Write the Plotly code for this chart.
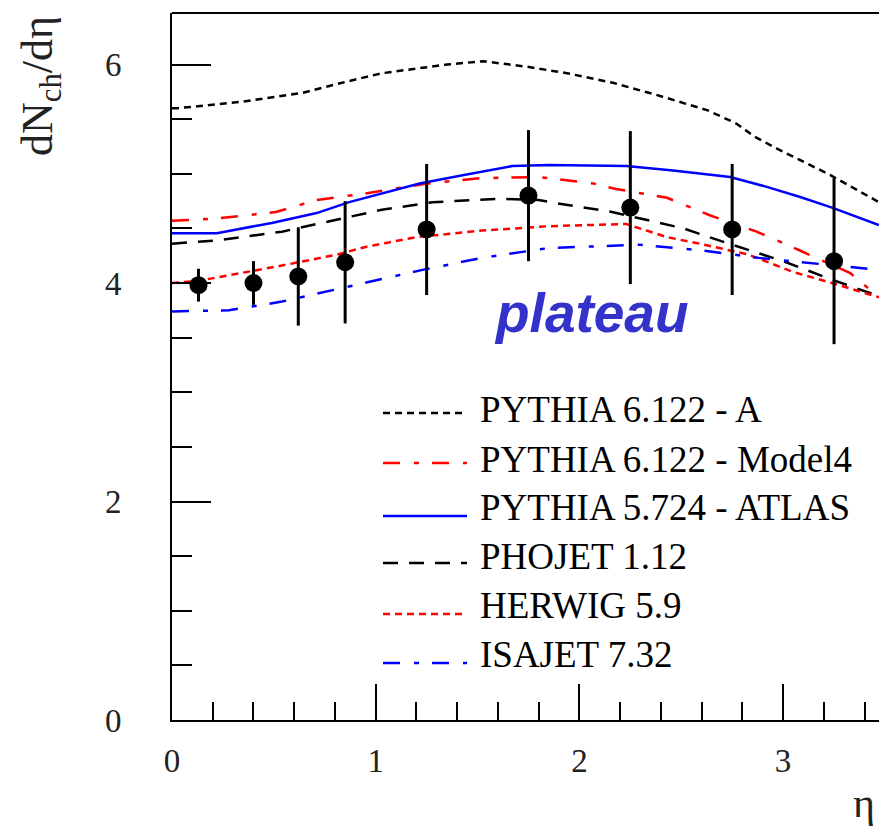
import plotly.graph_objects as go

# ---------------- data ----------------
eta_pythia_a = [0.0, 0.03, 0.35, 0.64, 0.85, 1.03, 1.35, 1.53, 1.74, 1.94, 2.17, 2.40, 2.63, 2.77, 2.86, 2.97, 3.23, 3.47]
val_pythia_a = [5.60, 5.60, 5.66, 5.74, 5.84, 5.92, 6.00, 6.03, 5.98, 5.92, 5.83, 5.71, 5.58, 5.46, 5.34, 5.23, 4.99, 4.74]

eta_model4 = [0.0, 0.22, 0.51, 0.71, 0.95, 1.25, 1.52, 1.80, 2.07, 2.18, 2.43, 2.64, 2.87, 3.08, 3.33, 3.47]
val_model4 = [4.57, 4.59, 4.65, 4.76, 4.82, 4.91, 4.96, 4.97, 4.91, 4.86, 4.78, 4.62, 4.47, 4.30, 4.09, 3.87]

eta_atlas = [0.0, 0.22, 0.49, 0.71, 0.87, 1.03, 1.215, 1.44, 1.67, 1.85, 2.23, 2.46, 2.59, 2.74, 2.92, 3.08, 3.24, 3.47]
val_atlas = [4.455, 4.455, 4.55, 4.64, 4.74, 4.82, 4.91, 4.99, 5.07, 5.08, 5.07, 5.03, 5.00, 4.97, 4.88, 4.79, 4.69, 4.53]

eta_phojet = [0.0, 0.22, 0.54, 0.81, 1.03, 1.28, 1.61, 1.80, 1.89, 2.16, 2.30, 2.51, 2.75, 3.00, 3.24, 3.41, 3.47]
val_phojet = [4.36, 4.39, 4.47, 4.58, 4.67, 4.74, 4.77, 4.76, 4.73, 4.65, 4.59, 4.50, 4.35, 4.20, 4.03, 3.92, 3.88]

eta_herwig = [0.0, 0.13, 0.54, 0.81, 0.95, 1.20, 1.52, 1.85, 2.23, 2.43, 2.59, 2.83, 3.05, 3.24, 3.47]
val_herwig = [4.00, 4.02, 4.16, 4.26, 4.33, 4.42, 4.48, 4.52, 4.54, 4.42, 4.36, 4.26, 4.10, 4.00, 3.87]

eta_isajet = [0.0, 0.28, 0.54, 0.87, 1.23, 1.52, 1.85, 2.30, 2.59, 2.88, 3.24, 3.47]
val_isajet = [3.74, 3.75, 3.83, 3.97, 4.12, 4.23, 4.32, 4.35, 4.30, 4.23, 4.16, 4.12]

eta_data = [0.13, 0.40, 0.62, 0.85, 1.25, 1.75, 2.25, 2.75, 3.25]
val_data = [3.98, 4.00, 4.06, 4.19, 4.49, 4.80, 4.69, 4.49, 4.20]
err_data = [0.15, 0.20, 0.45, 0.56, 0.60, 0.60, 0.70, 0.60, 0.76]

series_names = ["PYTHIA 6.122 - A", "PYTHIA 6.122 - Model4", "PYTHIA 5.724 - ATLAS",
                "PHOJET 1.12", "HERWIG 5.9", "ISAJET 7.32"]
series_colors = ["black", "#ff0000", "#0000ff", "black", "#ff0000", "#0000ff"]
series_dashes = ["7px,5px", "17px,14px,5px,13px", "solid", "15px,11px", "7px,5px", "17px,14px,5px,13px"]
series_x = [eta_pythia_a, eta_model4, eta_atlas, eta_phojet, eta_herwig, eta_isajet]
series_y = [val_pythia_a, val_model4, val_atlas, val_phojet, val_herwig, val_isajet]

# ---------------- figure ----------------
W, H = 879, 832
L, R, T, B = 172, 0, 13, 112
PW, PH = W - L - R, H - T - B
XMAX = PW / 203.7
YMAX = PH / 109.25

def px(x):
    return (x - L) / PW

def py(y):
    return (H - B - y) / PH

fig = go.Figure()
for name, c, d, xs, ys in zip(series_names, series_colors, series_dashes, series_x, series_y):
    fig.add_trace(go.Scatter(x=xs, y=ys, mode="lines", name=name,
                             line=dict(color=c, dash=d, width=2.5), showlegend=False))

fig.add_trace(go.Scatter(x=eta_data, y=val_data, mode="markers", name="data",
                         marker=dict(color="black", size=18),
                         error_y=dict(type="data", array=err_data, color="black", thickness=3, width=0),
                         showlegend=False))

serif = "Liberation Serif, Times New Roman, serif"

# manual legend (long line samples like the original)
leg_line_y = [413, 463, 516, 563, 614, 663]
leg_text_y = [410, 459, 507.5, 556, 605.5, 654.5]
shapes = []
annotations = []
for name, c, d, ly, ty in zip(series_names, series_colors, series_dashes, leg_line_y, leg_text_y):
    shapes.append(dict(type="line", xref="paper", yref="paper", x0=px(383), x1=px(467),
                       y0=py(ly), y1=py(ly), line=dict(color=c, dash=d, width=2.5)))
    annotations.append(dict(text=name, xref="paper", yref="paper", x=px(478), y=py(ty),
                            xanchor="left", yanchor="middle", showarrow=False,
                            font=dict(family=serif, size=37, color="black")))

# top frame line
shapes.append(dict(type="line", xref="paper", yref="paper", x0=0, x1=1, y0=1, y1=1,
                   line=dict(color="black", width=2)))

annotations.append(dict(text="plateau", xref="x", yref="y", x=2.057, y=3.725,
                        xanchor="center", yanchor="middle", showarrow=False,
                        font=dict(family="Liberation Sans, Arial, sans-serif", size=55,
                                  color="#3333cc", weight="bold", style="italic")))

annotations.append(dict(text="dN<sub>ch</sub>/dη", xref="paper", yref="paper",
                        x=px(40), y=py(86), xanchor="center", yanchor="middle",
                        textangle=-90, showarrow=False,
                        font=dict(family=serif, size=44, color="#222222")))

annotations.append(dict(text="η", xref="paper", yref="paper", x=px(877), y=py(828),
                        xanchor="right", yanchor="bottom", showarrow=False,
                        font=dict(family=serif, size=42, color="#222222")))

fig.update_layout(
    width=W, height=H,
    margin=dict(l=L, r=R, t=T, b=B, pad=0),
    paper_bgcolor="white", plot_bgcolor="white",
    shapes=shapes, annotations=annotations,
    showlegend=False,
)
fig.update_xaxes(range=[0, XMAX], showgrid=False, zeroline=False,
                 showline=True, linecolor="black", linewidth=2,
                 ticks="inside", ticklen=36, tickwidth=2, tickcolor="black",
                 dtick=1, tick0=0, ticklabelstandoff=10,
                 tickfont=dict(family=serif, size=33, color="#222222"),
                 minor=dict(dtick=0.2, ticklen=18, tickwidth=2, tickcolor="black", ticks="inside", showgrid=False))
fig.update_yaxes(range=[0, YMAX], showgrid=False, zeroline=False,
                 showline=True, linecolor="black", linewidth=2,
                 ticks="inside", ticklen=39, tickwidth=2, tickcolor="black",
                 dtick=2, tick0=0, ticklabelstandoff=42,
                 tickfont=dict(family=serif, size=33, color="#222222"),
                 minor=dict(dtick=0.5, ticklen=20, tickwidth=2, tickcolor="black", ticks="inside", showgrid=False))

fig.write_html("out.html")
